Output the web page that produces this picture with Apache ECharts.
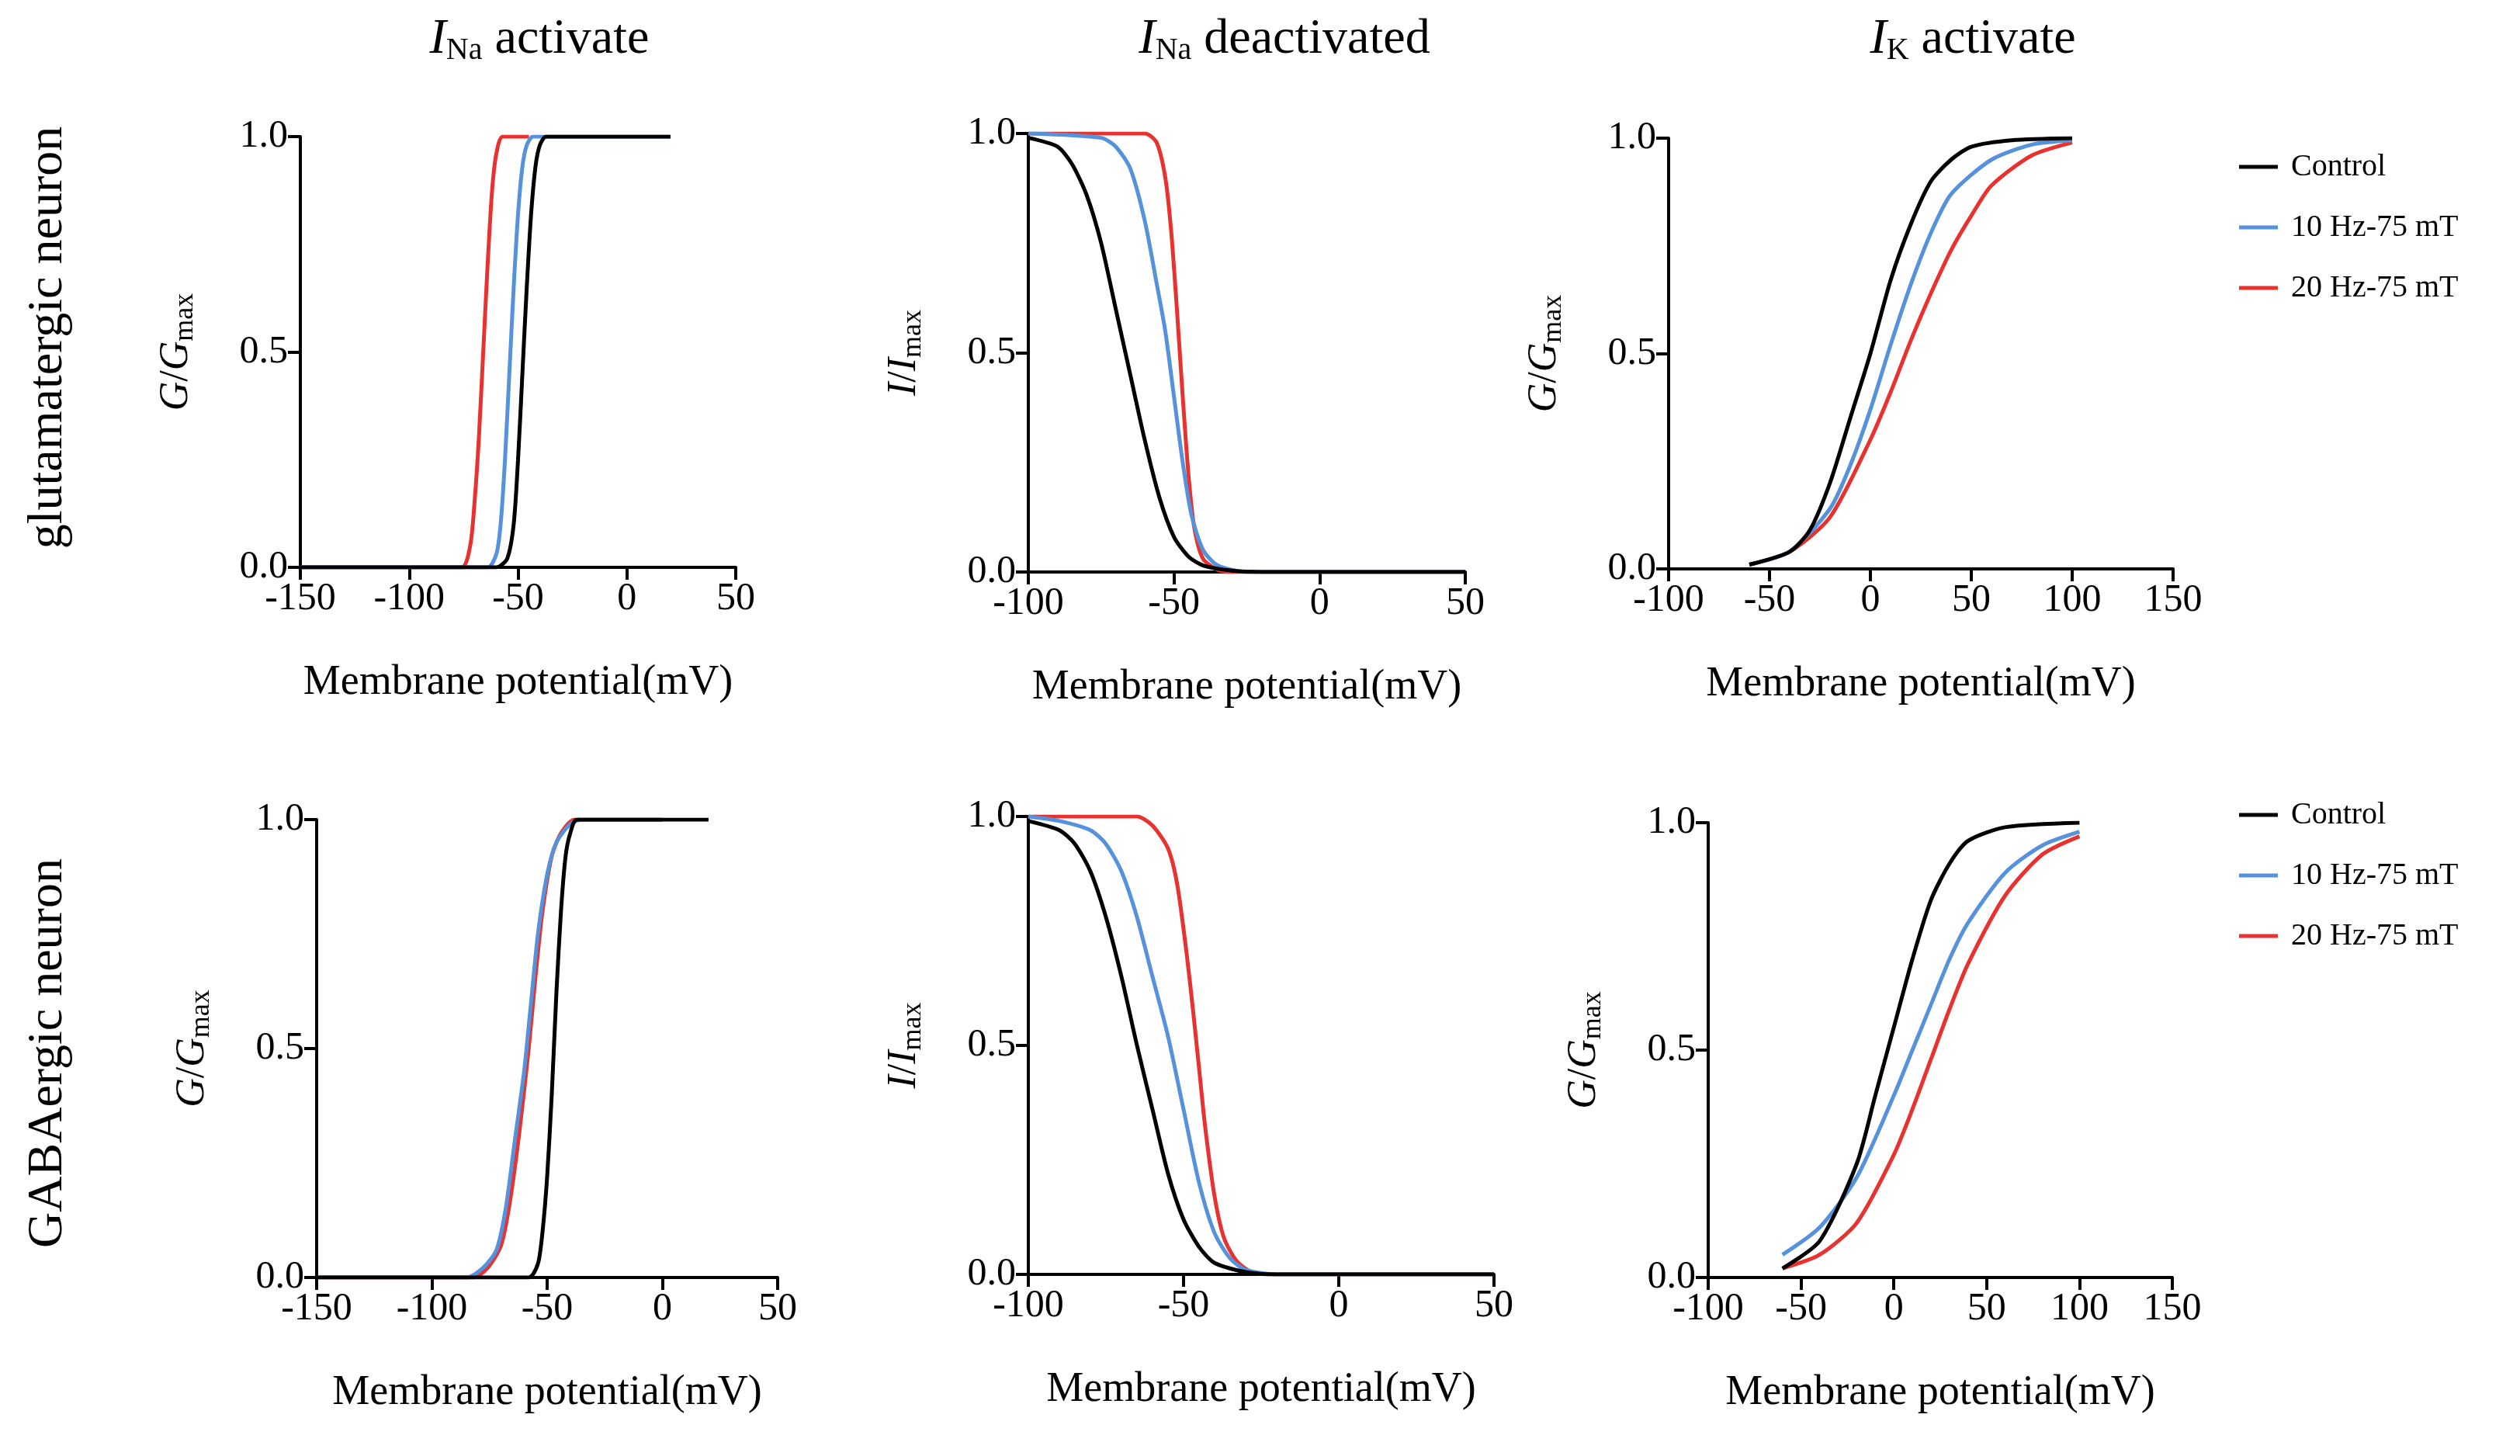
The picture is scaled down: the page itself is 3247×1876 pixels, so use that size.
<!DOCTYPE html>
<html>
<head>
<meta charset="utf-8">
<script src="https://cdn.jsdelivr.net/npm/echarts@6/dist/echarts.min.js"></script>
<style>html,body{margin:0;padding:0;background:#fff}#c{width:3247px;height:1876px}</style>
</head>
<body>
<div id="c"></div>
<script>
// ---- data (x = mV, y = normalised) ----
var seriesNames = ['Control', '10 Hz-75 mT', '20 Hz-75 mT'];

// glutamatergic, I_Na activate
var gNaActCtrlX = [-150, -60, -55, -52, -50, -48, -46, -44, -42, -40, -37, 20];
var gNaActCtrlY = [0, 0, 0.02, 0.1, 0.25, 0.45, 0.65, 0.82, 0.93, 0.98, 1, 1];
var gNaAct10X = [-150, -64, -60, -58, -56, -54, -52, -50, -48, -46, -43, 20];
var gNaAct10Y = [0, 0, 0.03, 0.1, 0.25, 0.45, 0.65, 0.82, 0.93, 0.98, 1, 1];
var gNaAct20X = [-150, -76, -72, -70, -68, -66, -64, -62, -60, -57, -45];
var gNaAct20Y = [0, 0, 0.05, 0.15, 0.3, 0.5, 0.7, 0.87, 0.96, 1, 1];

// glutamatergic, I_Na deactivated
var gNaDeCtrlX = [-100, -90, -85, -80, -75, -70, -65, -60, -55, -50, -45, -40, -30, -20, 50];
var gNaDeCtrlY = [0.99, 0.97, 0.93, 0.86, 0.75, 0.6, 0.45, 0.3, 0.17, 0.08, 0.035, 0.015, 0.003, 0, 0];
var gNaDe10X = [-100, -75, -70, -65, -60, -56, -53, -50, -47, -44, -40, -35, -25, 50];
var gNaDe10Y = [1, 0.99, 0.97, 0.92, 0.8, 0.66, 0.55, 0.4, 0.25, 0.13, 0.05, 0.015, 0, 0];
var gNaDe20X = [-100, -60, -56, -53, -51, -49, -47, -45, -43, -40, -35, -30, 50];
var gNaDe20Y = [1, 1, 0.98, 0.9, 0.78, 0.6, 0.4, 0.22, 0.1, 0.03, 0.005, 0, 0];

// glutamatergic, I_K activate
var gKCtrlX = [-60, -40, -30, -20, -10, 0, 10, 20, 30, 40, 50, 70, 100];
var gKCtrlY = [0.01, 0.04, 0.09, 0.2, 0.35, 0.5, 0.67, 0.8, 0.9, 0.95, 0.98, 0.995, 1];
var gK10X = [-60, -40, -20, -10, 0, 10, 20, 30, 40, 60, 80, 100];
var gK10Y = [0.01, 0.04, 0.14, 0.24, 0.37, 0.52, 0.66, 0.78, 0.87, 0.95, 0.985, 0.995];
var gK20X = [-60, -40, -20, 0, 10, 20, 30, 40, 50, 60, 80, 100];
var gK20Y = [0.01, 0.04, 0.12, 0.3, 0.41, 0.53, 0.64, 0.74, 0.82, 0.89, 0.96, 0.99];

// GABAergic, I_Na activate
var aNaActCtrlX = [-150, -58, -54, -52, -50, -48, -46, -44, -42, -40, -37, 20];
var aNaActCtrlY = [0, 0, 0.03, 0.1, 0.22, 0.4, 0.62, 0.8, 0.92, 0.97, 1, 1];
var aNaAct10X = [-150, -85, -78, -72, -68, -64, -60, -57, -54, -50, -46, -40, -35, 0];
var aNaAct10Y = [0, 0, 0.02, 0.06, 0.15, 0.3, 0.45, 0.6, 0.75, 0.88, 0.95, 0.99, 1, 1];
var aNaAct20X = [-150, -82, -76, -70, -66, -62, -58, -55, -52, -48, -44, -38, 0];
var aNaAct20Y = [0, 0, 0.02, 0.07, 0.17, 0.32, 0.5, 0.66, 0.8, 0.92, 0.97, 1, 1];

// GABAergic, I_Na deactivated
var aNaDeCtrlX = [-100, -90, -85, -80, -75, -70, -65, -60, -55, -50, -45, -40, -30, -20, 50];
var aNaDeCtrlY = [0.99, 0.97, 0.94, 0.88, 0.78, 0.65, 0.5, 0.36, 0.22, 0.12, 0.06, 0.025, 0.005, 0, 0];
var aNaDe10X = [-100, -90, -80, -75, -70, -65, -60, -55, -50, -45, -40, -35, -30, -20, 50];
var aNaDe10Y = [1, 0.99, 0.97, 0.94, 0.88, 0.78, 0.65, 0.52, 0.36, 0.2, 0.09, 0.035, 0.01, 0, 0];
var aNaDe20X = [-100, -65, -60, -55, -52, -49, -47, -45, -43, -40, -37, -33, -28, -20, 50];
var aNaDe20Y = [1, 1, 0.98, 0.93, 0.85, 0.7, 0.58, 0.45, 0.32, 0.17, 0.08, 0.03, 0.005, 0, 0];

// GABAergic, I_K activate
var aKCtrlX = [-60, -40, -20, -10, 0, 10, 20, 30, 40, 60, 100];
var aKCtrlY = [0.02, 0.08, 0.25, 0.4, 0.55, 0.7, 0.83, 0.91, 0.96, 0.99, 1];
var aK10X = [-60, -40, -20, 0, 10, 20, 30, 40, 60, 80, 100];
var aK10Y = [0.05, 0.11, 0.22, 0.4, 0.5, 0.6, 0.7, 0.78, 0.89, 0.95, 0.98];
var aK20X = [-60, -40, -20, 0, 10, 20, 30, 40, 60, 80, 100];
var aK20Y = [0.02, 0.05, 0.12, 0.27, 0.37, 0.48, 0.59, 0.69, 0.84, 0.93, 0.97];

var xRanges = [[-150, 50], [-100, 50], [-100, 150], [-150, 50], [-100, 50], [-100, 150]];
var yNames = ['G', 'I', 'G', 'G', 'I', 'G'];

var panels = [
    [[gNaActCtrlX, gNaActCtrlY], [gNaAct10X, gNaAct10Y], [gNaAct20X, gNaAct20Y]],
    [[gNaDeCtrlX, gNaDeCtrlY], [gNaDe10X, gNaDe10Y], [gNaDe20X, gNaDe20Y]],
    [[gKCtrlX, gKCtrlY], [gK10X, gK10Y], [gK20X, gK20Y]],
    [[aNaActCtrlX, aNaActCtrlY], [aNaAct10X, aNaAct10Y], [aNaAct20X, aNaAct20Y]],
    [[aNaDeCtrlX, aNaDeCtrlY], [aNaDe10X, aNaDe10Y], [aNaDe20X, aNaDe20Y]],
    [[aKCtrlX, aKCtrlY], [aK10X, aK10Y], [aK20X, aK20Y]]
];

// ---- layout ----
var grids = [
    {left: 387, top: 176, width: 561, height: 555},
    {left: 1325, top: 172, width: 563, height: 565},
    {left: 2150, top: 178, width: 650, height: 555},
    {left: 408, top: 1056, width: 594, height: 590},
    {left: 1325, top: 1052, width: 600, height: 590},
    {left: 2201, top: 1060, width: 598, height: 586}
];
var colors = ['#000000', '#5592db', '#e8322f'];
var FONT = '"Liberation Serif", "DejaVu Serif", serif';

function zip(xs, ys) {
    return xs.map(function (x, i) { return [x, ys[i]]; });
}

var xAxes = [], yAxes = [], series = [];
grids.forEach(function (g, i) {
    xAxes.push({
        gridIndex: i, type: 'value', min: xRanges[i][0], max: xRanges[i][1], interval: 50,
        name: 'Membrane potential(mV)', nameLocation: 'middle', nameGap: 122,
        nameTextStyle: {fontFamily: FONT, fontSize: 54, color: '#000'},
        axisLine: {onZero: false, lineStyle: {color: '#000', width: 4}},
        axisTick: {length: 16, lineStyle: {color: '#000', width: 4}},
        axisLabel: {fontFamily: FONT, fontSize: 50, color: '#000', margin: 16},
        splitLine: {show: false}
    });
    yAxes.push({
        gridIndex: i, type: 'value', min: 0, max: 1, interval: 0.5,
        name: '{it|' + yNames[i] + '}{n|/}{it|' + yNames[i] + '}{sub|max}',
        nameLocation: 'middle', nameGap: 130, nameRotate: 90,
        nameTextStyle: {
            color: '#000',
            rich: {
                it: {fontFamily: FONT, fontSize: 52, fontStyle: 'italic', color: '#000'},
                n: {fontFamily: FONT, fontSize: 52, color: '#000'},
                sub: {fontFamily: FONT, fontSize: 36, color: '#000', verticalAlign: 'bottom', padding: [24, 0, 0, 0]}
            }
        },
        axisLine: {show: true, onZero: false, lineStyle: {color: '#000', width: 4}},
        axisTick: {show: true, length: 16, lineStyle: {color: '#000', width: 4}},
        axisLabel: {fontFamily: FONT, fontSize: 50, color: '#000', margin: 16,
            formatter: function (v) { return v.toFixed(1); }},
        splitLine: {show: false}
    });
    panels[i].forEach(function (c, k) {
        series.push({
            name: seriesNames[k], type: 'line', xAxisIndex: i, yAxisIndex: i,
            data: zip(c[0], c[1]), smooth: 0.25, showSymbol: false,
            lineStyle: {color: colors[k], width: 5}, itemStyle: {color: colors[k]},
            z: 3 - k
        });
    });
});

function titleText(sub, rest) {
    return '{i|I}{s|' + sub + '}{t| ' + rest + '}';
}
var titleRich = {
    i: {fontFamily: FONT, fontSize: 64, fontStyle: 'italic', fontWeight: 'normal', color: '#000'},
    s: {fontFamily: FONT, fontSize: 40, fontWeight: 'normal', color: '#000', verticalAlign: 'bottom', padding: [28, 0, 0, 0]},
    t: {fontFamily: FONT, fontSize: 64, fontWeight: 'normal', color: '#000'}
};

var legendBase = {
    orient: 'vertical', left: 2880, itemWidth: 50, itemHeight: 5, itemGap: 38,
    icon: 'rect', data: seriesNames,
    textStyle: {fontFamily: FONT, fontSize: 40, color: '#000', padding: [0, 0, 0, 12]}
};

var chart = echarts.init(document.getElementById('c'));
chart.setOption({
    backgroundColor: '#fff',
    animation: false,
    title: [
        {text: titleText('Na', 'activate'), left: 690, top: 12, textAlign: 'center', textStyle: {fontWeight: 'normal', rich: titleRich}},
        {text: titleText('Na', 'deactivated'), left: 1650, top: 12, textAlign: 'center', textStyle: {fontWeight: 'normal', rich: titleRich}},
        {text: titleText('K', 'activate'), left: 2537, top: 12, textAlign: 'center', textStyle: {fontWeight: 'normal', rich: titleRich}}
    ],
    legend: [
        Object.assign({}, legendBase, {top: 190}),
        Object.assign({}, legendBase, {top: 1025})
    ],
    graphic: [
        {type: 'text', x: 62, y: 435, rotation: Math.PI / 2,
            style: {text: 'glutamatergic neuron', font: '64px ' + FONT, fill: '#000', align: 'center', verticalAlign: 'middle'}},
        {type: 'text', x: 62, y: 1357, rotation: Math.PI / 2,
            style: {text: 'GABAergic neuron', font: '64px ' + FONT, fill: '#000', align: 'center', verticalAlign: 'middle'}}
    ],
    grid: grids,
    xAxis: xAxes,
    yAxis: yAxes,
    series: series
});
</script>
</body>
</html>
